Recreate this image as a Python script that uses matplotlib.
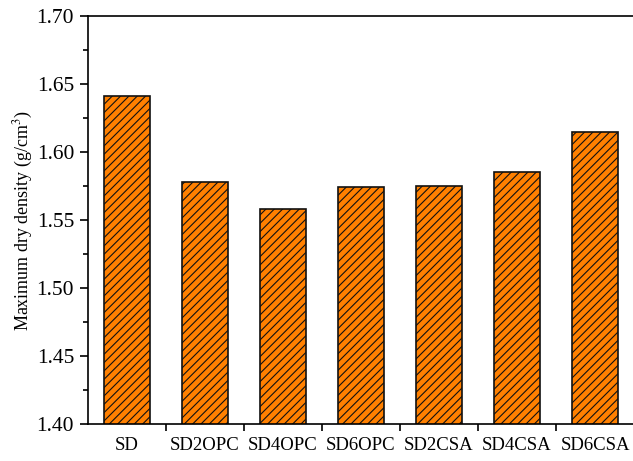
import matplotlib
matplotlib.use("Agg")
import matplotlib.pyplot as plt
import numpy as np
from matplotlib.ticker import MultipleLocator

# Sample names and maximum dry density values (g/cm3)
samples = ['SD', 'SD2OPC', 'SD4OPC', 'SD6OPC', 'SD2CSA', 'SD4CSA', 'SD6CSA']
density = [1.641, 1.578, 1.558, 1.574, 1.575, 1.585, 1.615]

plt.rcParams['font.family'] = ['Liberation Serif', 'DejaVu Serif']
plt.rcParams['hatch.linewidth'] = 0.8
plt.rcParams['mathtext.fontset'] = 'stix'

fig = plt.figure(figsize=(6.33, 4.61), dpi=100)
ax = fig.add_axes([88 / 633, 37 / 461, 546 / 633, 408 / 461])

x = np.arange(len(samples))
ax.bar(x, density, width=0.6, color='#FF8000', edgecolor='#111111',
       linewidth=1.2, hatch='////')

ax.set_xlim(-0.5, len(samples) - 0.5)
ax.set_ylim(1.40, 1.70)
ax.yaxis.set_minor_locator(MultipleLocator(0.025))
yt = np.arange(1.40, 1.701, 0.05)
ax.set_yticks(yt)
ax.set_yticklabels(['%.2f' % v for v in yt], fontsize=15.5)

# x ticks at category boundaries, labels centred under the bars
ax.set_xticks(np.arange(0.5, len(samples) - 0.5, 1.0))
ax.set_xticklabels([])
ax.set_xticks(x, minor=True)
ax.set_xticklabels(samples, minor=True, fontsize=13.5)
ax.tick_params(axis='x', which='minor', length=0, pad=9)
ax.tick_params(axis='x', which='major', direction='out', length=5, width=1.2)
ax.tick_params(axis='y', which='major', direction='out', length=6, width=1.2, pad=4)
ax.tick_params(axis='y', which='minor', direction='out', length=3.5, width=1.2)

ax.set_ylabel('Maximum dry density (g/cm$^3$)', fontsize=13, labelpad=1)

for s in ['left', 'bottom', 'top']:
    ax.spines[s].set_linewidth(1.2)
ax.spines['right'].set_visible(False)

fig.savefig('out.png', dpi=100)
